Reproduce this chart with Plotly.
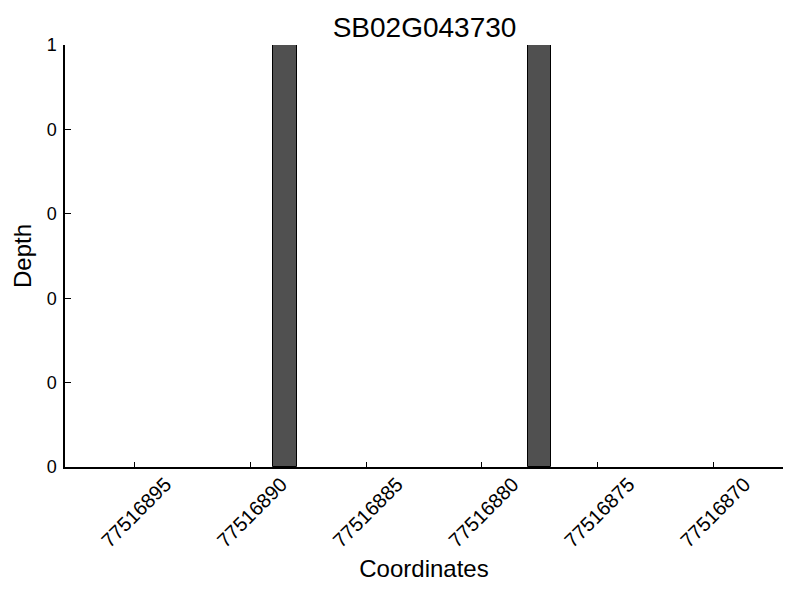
import plotly.graph_objects as go

title = "SB02G043730"
coordinates = [77516889, 77516878]
depth = [1, 1]
x_tickvals = [77516895, 77516890, 77516885, 77516880, 77516875, 77516870]
y_tickvals = [0, 0.2, 0.4, 0.6, 0.8, 1]
y_ticktext = ["0", "0", "0", "0", "0", "1"]

fig = go.Figure()
fig.add_trace(go.Bar(
    x=coordinates, y=depth, width=1, offset=-1,
    marker=dict(color="#505050", line=dict(color="black", width=1)),
))

# page body has an 8px margin; figure is sized/offset to compensate
W, H = 792, 592
font = "Liberation Sans, Arial, sans-serif"
fig.update_layout(
    width=W, height=H,
    margin=dict(l=57, r=17, t=37, b=133, autoexpand=False),
    paper_bgcolor="white", plot_bgcolor="white",
    showlegend=False,
    font=dict(family=font, color="black"),
    title=dict(text=title, x=(424.5 - 8) / W, xanchor="center", xref="container",
               y=1 - (27 - 8) / H, yanchor="middle", yref="container",
               font=dict(size=28, family=font, color="black")),
    bargap=0,
)
fig.update_xaxes(
    range=[77516898, 77516867],
    tickmode="array", tickvals=x_tickvals,
    ticktext=[str(v) for v in x_tickvals],
    tickangle=-45, ticks="inside", ticklen=5, tickcolor="black",
    ticklabelshift=-31, ticklabelstandoff=-4,
    showline=True, linecolor="black", linewidth=1.5,
    showgrid=False, zeroline=False, automargin=False,
    tickfont=dict(size=20),
    title=dict(text="Coordinates", font=dict(size=24), standoff=10),
)
fig.update_yaxes(
    range=[0, 1],
    tickmode="array", tickvals=y_tickvals, ticktext=y_ticktext,
    ticks="inside", ticklen=6, tickcolor="black",
    ticklabelstandoff=3,
    showline=True, linecolor="black", linewidth=1.5,
    showgrid=False, zeroline=False, automargin=False,
    tickfont=dict(size=18),
    title=dict(text="Depth", font=dict(size=24), standoff=8),
)
fig.write_html("out.html")
